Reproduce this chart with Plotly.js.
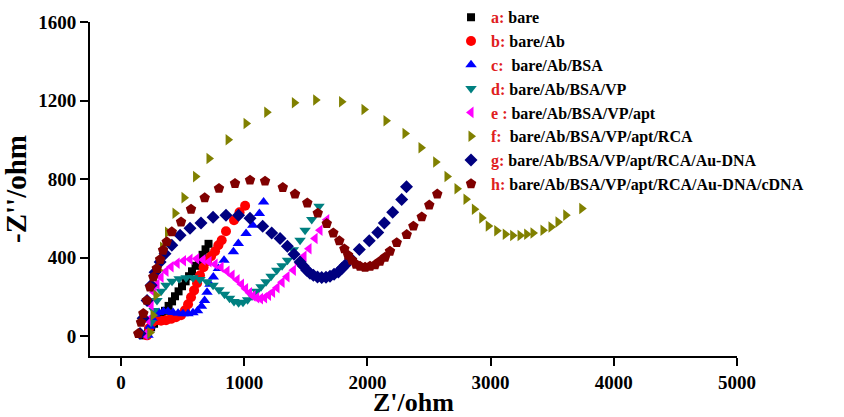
<!DOCTYPE html>
<html>
<head>
<meta charset="utf-8">
<script src="https://cdn.plot.ly/plotly-3.0.1.min.js"></script>
<style>html,body{margin:0;padding:0;background:#fff}#chart{width:844px;height:417px}</style>
</head>
<body>
<div id="chart"></div>
<script>
// Series names (legend)
const seriesLabels = ['a:', 'b:', 'c: ', 'd:', 'e :', 'f: ', 'g:', 'h:'];
const seriesNames = ['bare', 'bare/Ab', 'bare/Ab/BSA', 'bare/Ab/BSA/VP', 'bare/Ab/BSA/VP/apt',
  'bare/Ab/BSA/VP/apt/RCA', 'bare/Ab/BSA/VP/apt/RCA/Au-DNA', 'bare/Ab/BSA/VP/apt/RCA/Au-DNA/cDNA'];

// a: bare
const aX = [195,219,244,268,300,329,357,386,414,438,467,495,524,552,576,605,633,662,686,710];
const aY = [5,25,46,64,87,107,130,155,178,204,229,255,280,306,331,359,387,415,443,471];

// b: bare/Ab
const bX = [211,227,252,284,325,365,406,446,487,519,544,568,593,617,641,670,698,731,763,790,817,852,917,962,1007];
const bY = [5,41,71,82,79,82,89,97,107,133,163,199,234,270,311,352,382,408,433,464,489,535,591,632,665];

// c: bare/Ab/BSA
const cX = [219,235,252,276,308,345,381,422,463,503,544,584,621,653,678,698,722,749,790,836,912,952,1015,1069,1123,1157];
const cY = [5,51,92,112,122,127,127,122,117,115,115,120,130,153,183,224,265,302,345,387,430,472,523,566,625,684];

// d: bare/Ab/BSA/VP
const dX = [219,244,268,292,325,365,414,471,528,584,641,698,747,795,840,881,917,954,990,1027,1063,1100,1136,1177,1218,1264,1307,1351,1399,1453,1494,1548,1607];
const dY = [10,71,132,183,229,260,280,293,298,298,290,278,260,237,214,194,178,171,173,186,206,229,252,278,306,336,359,387,441,489,540,595,662];

// e: bare/Ab/BSA/VP/apt
const eX = [195,219,244,268,292,325,365,406,455,507,560,614,666,714,763,812,860,901,942,978,1011,1043,1071,1101,1132,1165,1197,1230,1266,1307,1347,1399,1445,1485,1526,1575,1615,1670];
const eY = [10,82,158,224,265,301,331,354,372,385,392,395,390,380,367,352,331,311,288,265,242,222,206,196,192,196,209,224,247,275,303,336,369,408,446,498,540,594];

// f: bare/Ab/BSA/VP/apt/RCA
const fX = [235,260,284,304,337,377,438,511,605,714,869,1015,1183,1407,1580,1790,1972,2151,2305,2435,2554,2646,2727,2800,2868,2928,2981,3050,3119,3179,3239,3293,3344,3425,3490,3547,3610,3740];
const fY = [20,107,209,336,454,530,627,706,813,905,1001,1083,1141,1189,1203,1194,1155,1097,1033,960,887,814,751,698,647,603,562,537,520,513,513,520,526,540,557,582,617,651];

// g: bare/Ab/BSA/VP/apt/RCA/Au-DNA
const gX = [154,179,211,244,276,317,357,412,479,560,649,747,852,954,1047,1150,1223,1291,1350,1404,1453,1481,1507,1534,1561,1595,1629,1664,1696,1729,1764,1794,1818,1864,1934,2015,2084,2137,2205,2278,2317];
const gY = [15,92,183,260,326,379,421,464,515,550,577,606,617,617,601,561,526,498,459,418,379,357,336,321,311,302,299,301,306,316,328,347,362,396,442,486,528,577,632,697,762];

// h: bare/Ab/BSA/VP/apt/RCA/Au-DNA/cDNA
const hX = [140,162,181,209,235,262,290,317,341,371,412,487,568,679,795,925,1047,1169,1313,1412,1512,1597,1670,1723,1772,1813,1843,1875,1907,1940,1981,2021,2062,2102,2143,2183,2238,2319,2373,2441,2502,2567];
const hY = [14,71,116,183,251,302,345,391,438,481,532,582,647,705,753,778,795,790,758,724,679,627,574,526,486,445,413,387,367,357,352,357,364,382,403,433,477,518,561,608,668,724];

const xs = [aX, bX, cX, dX, eX, fX, gX, hX];
const ys = [aY, bY, cY, dY, eY, fY, gY, hY];
const colors = ['#000000', '#ff0000', '#0000ff', '#008080', '#ff00ff', '#808000', '#000080', '#800000'];
const symbols = ['square', 'circle', 'triangle-up', 'triangle-down', 'triangle-left', 'triangle-right', 'diamond', 'pentagon'];
const sizes = [8, 10, 10, 10, 10, 10, 10, 11];

const font = 'Liberation Serif, Times New Roman, serif';
const traces = xs.map((x, i) => ({
  type: 'scatter', mode: 'markers', x: x, y: ys[i],
  name: '<span style="color:#e0201e">' + seriesLabels[i] + '</span> ' + seriesNames[i],
  marker: {symbol: symbols[i], color: colors[i], size: sizes[i], line: {width: 0}}
}));

const axisCommon = {
  showgrid: false, zeroline: false, showline: true, linecolor: '#000', linewidth: 2,
  ticks: 'outside', ticklen: 8, tickwidth: 2, tickcolor: '#000',
  tickfont: {family: font, size: 19, color: '#000', weight: 'bold'}
};

const layout = {
  width: 844, height: 417,
  margin: {l: 90, r: 107, t: 22, b: 61, autoexpand: false},
  paper_bgcolor: '#fff', plot_bgcolor: '#fff',
  showlegend: true,
  legend: {x: 0.558, xanchor: 'left', y: 1.065, yanchor: 'top', bgcolor: 'rgba(0,0,0,0)',
    font: {family: font, size: 16, color: '#000', weight: 'bold'}},
  xaxis: Object.assign({}, axisCommon, {range: [-252, 5000], tickvals: [0, 1000, 2000, 3000, 4000, 5000],
    title: {text: "Z'/ohm", standoff: 7, font: {family: font, size: 26, color: '#000', weight: 'bold'}}}),
  yaxis: Object.assign({}, axisCommon, {range: [-100, 1600], tickvals: [0, 400, 800, 1200, 1600],
    title: {text: "-Z''/ohm", standoff: 4, font: {family: font, size: 29, color: '#000', weight: 'bold'}}})
};

Plotly.newPlot('chart', traces, layout, {displayModeBar: false, staticPlot: true});
</script>
</body>
</html>
